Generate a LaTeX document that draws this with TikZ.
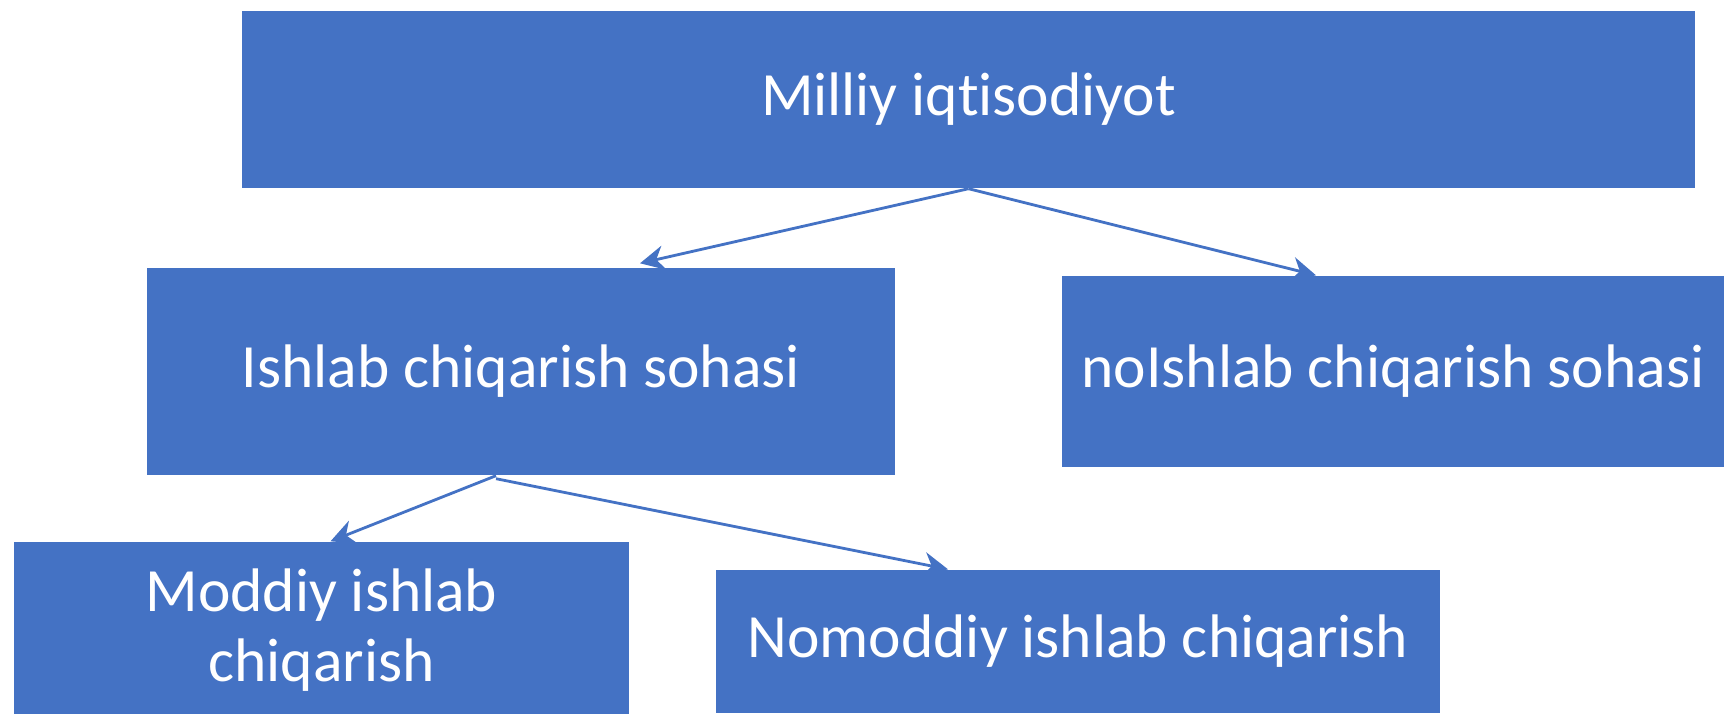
\documentclass[tikz,border=0pt]{standalone}
\usepackage{fontspec}
\setmainfont{Carlito}[Ligatures=NoCommon]
\definecolor{boxblue}{HTML}{4472C4}
\tikzset{
  sohabox/.style={fill=boxblue, draw=none, text=white, inner sep=0pt,
    font=\fontsize{17.5}{20}\selectfont, align=center},
  sohaline/.style={draw=boxblue, line width=0.8pt, -{Stealth[length=7pt,width=7pt]}}
}
\usetikzlibrary{arrows.meta}
\begin{document}
\begin{tikzpicture}
            \useasboundingbox (0,0) rectangle (17.24,-7.13);
            \node[sohabox, minimum width=14.53cm, minimum height=1.77cm] 
            (milliy) at (9.685,-0.995) {Milliy iqtisodiyot};
            \node[sohabox, minimum width=7.48cm, minimum height=2.07cm] 
            (ishlab) at (5.21,-3.715) {Ishlab chiqarish sohasi};
            \node[sohabox, minimum width=6.62cm, minimum height=1.91cm] 
            (noishlab) at (13.93,-3.715) {noIshlab chiqarish sohasi};
            \node[sohabox, minimum width=6.15cm, minimum height=1.76cm] 
            (moddiy) at (3.215,-6.3) {Moddiy ishlab\\chiqarish};
            \node[sohabox, minimum width=7.24cm, minimum height=1.43cm] 
            (nomoddiy) at (10.78,-6.415) {Nomoddiy ishlab chiqarish};
            \draw[sohaline] (milliy.south) -- ([xshift=1.19cm,yshift=0.04cm]ishlab.north);
            \draw[sohaline] (milliy.south) -- ([xshift=-0.77cm]noishlab.north);
            \draw[sohaline] ([xshift=-0.25cm]ishlab.south) -- ([xshift=0.09cm]moddiy.north);
            \draw[sohaline] ([xshift=-0.25cm,yshift=-0.03cm]ishlab.south) -- ([xshift=-1.3cm]nomoddiy.north);
        \end{tikzpicture}
\end{document}
